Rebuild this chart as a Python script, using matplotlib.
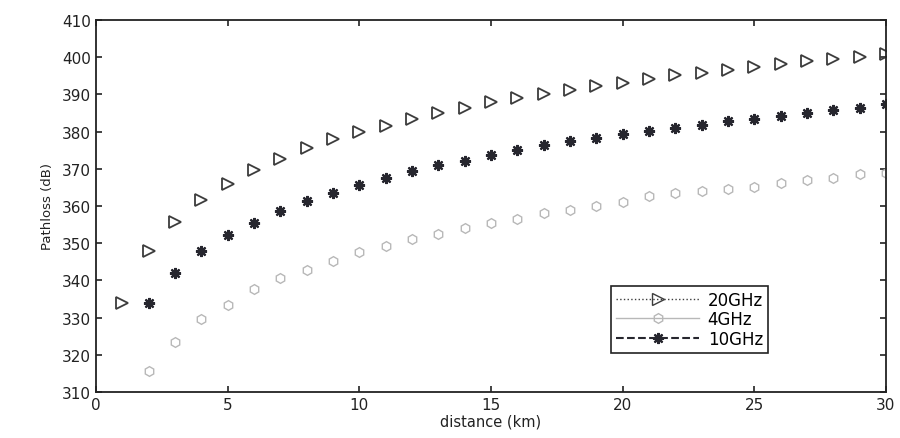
import numpy as np
import matplotlib
matplotlib.use('Agg')
import matplotlib.pyplot as plt
from matplotlib.lines import Line2D

# values
d_20 = list(range(1, 31))
pl_20 = [334.0, 347.8, 355.6, 361.5, 366.0, 369.6, 372.7, 375.5, 377.9, 379.8,
         381.6, 383.4, 384.9, 386.4, 387.9, 389.1, 390.2, 391.3, 392.2, 393.2,
         394.2, 395.1, 395.8, 396.7, 397.4, 398.2, 398.9, 399.6, 400.1, 400.9]

d_4 = list(range(2, 31))
pl_4 = [315.6, 323.4, 329.5, 333.5, 337.6, 340.5, 342.9, 345.2, 347.6,
        349.2, 351.0, 352.6, 354.1, 355.3, 356.6, 358.0, 358.9, 359.9, 361.2,
        362.6, 363.5, 364.0, 364.6, 365.2, 366.2, 366.9, 367.6, 368.5, 369.0]

d_10 = list(range(2, 31))
pl_10 = [334.0, 342.0, 347.8, 352.3, 355.5, 358.6, 361.3, 363.5, 365.7,
         367.6, 369.4, 370.9, 372.1, 373.6, 375.0, 376.3, 377.4, 378.3, 379.4,
         380.3, 381.0, 381.9, 382.8, 383.5, 384.3, 385.1, 385.8, 386.4, 387.3]

labels = ['20GHz', '4GHz', '10GHz']

fig = plt.figure(figsize=(9, 4.39), dpi=100)
ax = fig.add_axes([0.1067, 0.105, 0.8777, 0.847])

c20 = '#3c3c3c'
c4 = '#b8b8b8'
c10 = '#26262e'
ax.plot(d_20, pl_20, linestyle='none', marker='>', ms=9, mfc='none', mec=c20, mew=1.3)
ax.plot(d_4, pl_4, linestyle='none', marker='h', ms=7, mfc='none', mec=c4, mew=1.0)
ax.plot(d_10, pl_10, linestyle='none', marker=(8, 2, 0), ms=8, mec=c10, mew=1.6)

handles = [
    Line2D([], [], color=c20, linestyle=':', lw=1, marker='>', ms=9, mfc='none', mec=c20),
    Line2D([], [], color=c4, linestyle='-', lw=1, marker='h', ms=7, mfc='none', mec=c4),
    Line2D([], [], color=c10, linestyle='--', lw=1.5, marker=(8, 2, 0), ms=8, mec=c10, mew=1.6),
]
leg = ax.legend(handles, labels, loc='lower left', bbox_to_anchor=(0.652, 0.105),
                fancybox=False, edgecolor='#222222', framealpha=1, fontsize=12,
                handlelength=5.0, borderpad=0.3, labelspacing=0.1, handletextpad=0.5,
                borderaxespad=0)
leg.get_frame().set_linewidth(1.2)

ax.set_xlim(0, 30)
ax.set_ylim(310, 410)
ax.set_xticks(np.arange(0, 31, 5))
ax.set_yticks(np.arange(310, 411, 10))
ax.tick_params(direction='in', top=True, right=True, length=4, width=1.2,
               labelsize=11, colors='#222222')
for s in ax.spines.values():
    s.set_linewidth(1.3)
    s.set_color('#222222')

ax.set_xlabel('distance (km)', fontsize=10.5, labelpad=1, color='#222222')
ax.set_ylabel('Pathloss (dB)', fontsize=9.5, labelpad=6, color='#222222',
              family=['Liberation Sans Narrow', 'DejaVu Sans'])

fig.savefig('out.png', dpi=100)
